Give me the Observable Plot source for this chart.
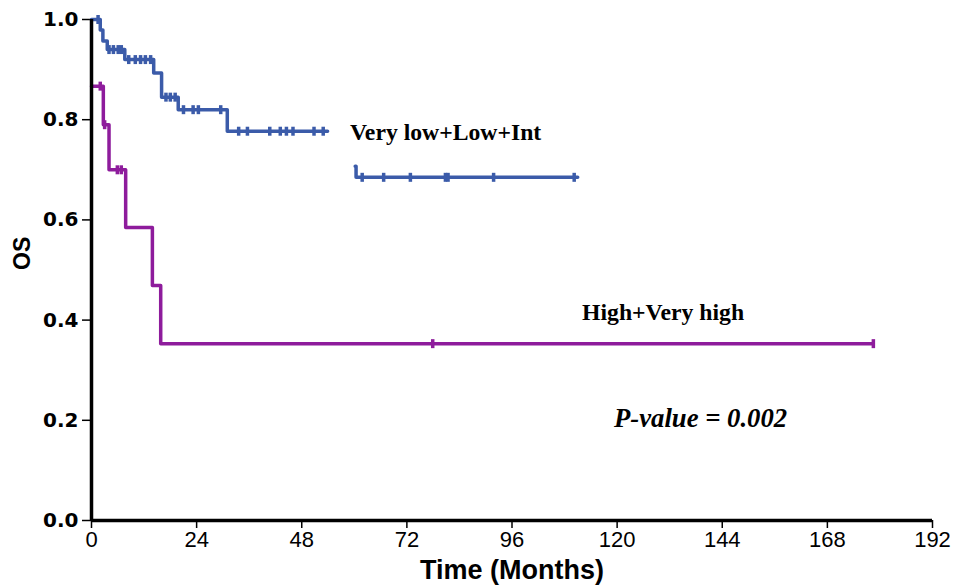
<!DOCTYPE html>
<html>
<head>
<meta charset="utf-8">
<script src="https://cdn.jsdelivr.net/npm/d3@7"></script>
<script src="https://cdn.jsdelivr.net/npm/@observablehq/plot@0.6"></script>
<style>
  html, body { margin: 0; padding: 0; background: #fff; }
  #chart { width: 956px; height: 588px; }
</style>
</head>
<body>
<div id="chart"></div>
<script>
// ---- Data ----
// Group 1: Very low+Low+Int (two drawn segments, gap between them)
const blueTimesA = [0, 2.0, 2.6, 3.6, 7.6, 14.2, 16.0, 19.8, 31.0, 53.9];
const blueSurvA  = [1.0, 0.979, 0.957, 0.94, 0.92, 0.893, 0.845, 0.82, 0.777, 0.777];
const blueTimesB = [60.2, 60.4, 111.0];
const blueSurvB  = [0.707, 0.685, 0.685];
const blueCensorTimes = [1.5, 4.0, 5.0, 6.1, 6.8, 8.5, 10.0, 11.2, 12.3, 13.5,
  17.0, 18.0, 19.1, 21.0, 23.2, 24.4, 29.5,
  33.6, 35.6, 40.7, 43.1, 44.5, 46.0, 50.8, 52.9,
  61.8, 66.7, 72.8, 80.8, 81.4, 91.8, 110.2];

// Group 2: High+Very high
const purpleTimes = [0, 2.7, 4.0, 7.8, 13.9, 15.8, 178.5];
const purpleSurv  = [0.867, 0.79, 0.70, 0.585, 0.469, 0.353, 0.353];
const purpleCensorTimes = [2.0, 3.0, 5.9, 6.8, 77.9, 178.5];

const xTicks = [0, 24, 48, 72, 96, 120, 144, 168, 192];
const yTicks = [0, 0.2, 0.4, 0.6, 0.8, 1.0];

const groupLabels = ["Very low+Low+Int", "High+Very high"];
const groupLabelX = [59, 112];
const groupLabelY = [0.775, 0.415];
const pText = "P-value = 0.002";
const pX = 119.3, pY = 0.203;

const blueColor = "#3b5ba9";
const purpleColor = "#8e1c9c";

// ---- Build tables ----
function steps(times, surv, seg) {
  return times.map((t, i) => ({t, s: surv[i], seg}));
}
function stepValue(times, surv, t) {
  let v = surv[0];
  for (let i = 0; i < times.length; i++) if (times[i] <= t) v = surv[i];
  return v;
}
const blueLine = [...steps(blueTimesA, blueSurvA, "a"), ...steps(blueTimesB, blueSurvB, "b")];
const purpleLine = steps(purpleTimes, purpleSurv, "p");
const blueCens = blueCensorTimes.map(t => ({
  t, s: t < 57 ? stepValue(blueTimesA, blueSurvA, t) : stepValue(blueTimesB, blueSurvB, t)
}));
const purpleCens = purpleCensorTimes.map(t => ({t, s: stepValue(purpleTimes, purpleSurv, t)}));

const vtick = {
  draw(ctx, size) {
    const r = Math.sqrt(size / Math.PI);
    ctx.moveTo(0, -r);
    ctx.lineTo(0, r);
  }
};

const chart = Plot.plot({
  width: 956,
  height: 588,
  marginLeft: 91,
  marginRight: 24,
  marginTop: 19,
  marginBottom: 68,
  style: {background: "#fff", color: "#000"},
  x: {domain: [0, 192]},
  y: {domain: [0, 1]},
  marks: [
    Plot.axisY({ticks: yTicks, tickFormat: d3.format(".1f"), tickSize: 9, tickPadding: 4,
      fontSize: 20, fontWeight: "bold", fontFamily: "DejaVu Sans", strokeWidth: 1.5, label: null}),
    Plot.axisX({ticks: xTicks, tickFormat: d => String(d), tickSize: 8, tickPadding: 3,
      fontSize: 22, fontFamily: "Liberation Sans", strokeWidth: 1.5, label: null}),
    Plot.line(purpleLine, {x: "t", y: "s", z: "seg", curve: "step-after", stroke: purpleColor, strokeWidth: 3.5}),
    Plot.line(blueLine, {x: "t", y: "s", z: "seg", curve: "step-after", stroke: blueColor, strokeWidth: 3.5}),
    Plot.dot(blueCens, {x: "t", y: "s", symbol: vtick, r: 4.5, stroke: blueColor, strokeWidth: 3.5, fill: "none"}),
    Plot.dot(purpleCens, {x: "t", y: "s", symbol: vtick, r: 4.5, stroke: purpleColor, strokeWidth: 3.5, fill: "none"}),
    Plot.ruleX([0], {stroke: "#000", strokeWidth: 3.5}),
    Plot.ruleY([0], {stroke: "#000", strokeWidth: 3.5}),
    Plot.text(groupLabels, {x: (d, i) => groupLabelX[i], y: (d, i) => groupLabelY[i], text: d => d,
      textAnchor: "start", fontFamily: "Liberation Serif", fontWeight: "bold", fontSize: 23.7, fill: "#000"}),
    Plot.text([pText], {x: () => pX, y: () => pY, text: d => d, textAnchor: "start",
      fontFamily: "Liberation Serif", fontWeight: "bold", fontStyle: "italic", fontSize: 26.7, fill: "#000"}),
    Plot.text(["OS"], {frameAnchor: "left", dx: -69, rotate: -90, text: d => d,
      fontFamily: "Liberation Sans", fontWeight: "bold", fontSize: 23, fill: "#000"}),
    Plot.text(["Time (Months)"], {frameAnchor: "bottom", dy: 58, text: d => d,
      fontFamily: "Liberation Sans", fontWeight: "bold", fontSize: 27, fill: "#000"})
  ]
});
document.getElementById("chart").appendChild(chart);
</script>
</body>
</html>
